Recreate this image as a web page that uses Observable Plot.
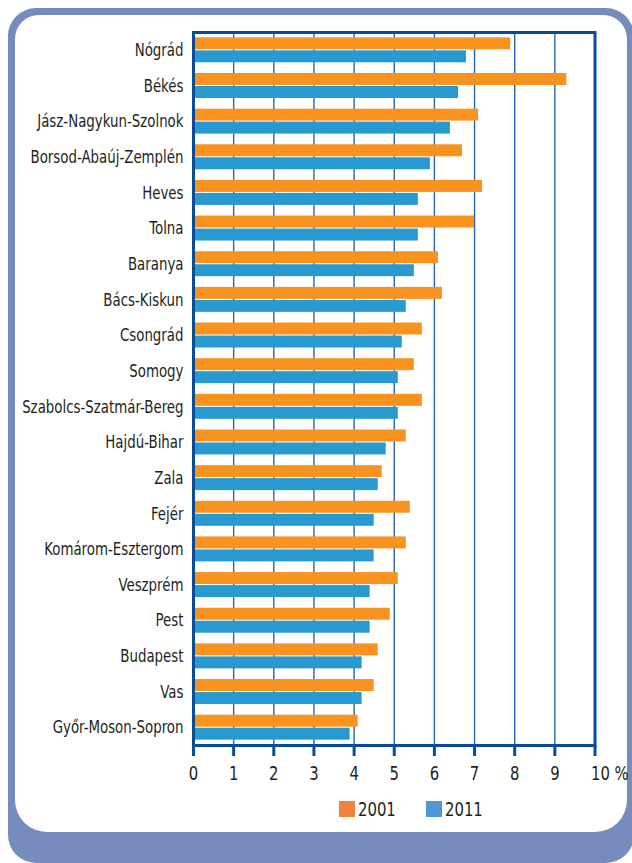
<!DOCTYPE html>
<html>
<head>
<meta charset="utf-8">
<script src="https://cdn.jsdelivr.net/npm/d3@7"></script>
<script src="https://cdn.jsdelivr.net/npm/@observablehq/plot@0.6"></script>
<style>
  html, body { margin: 0; padding: 0; background: #ffffff; }
  body { position: relative; width: 632px; height: 863px; overflow: hidden;
         font-family: "Liberation Sans Narrow", "DejaVu Sans Condensed", "Arial Narrow", sans-serif; color: #231f20; }
  #outer { position: absolute; left: 8px; top: 8px; width: 626px; height: 855px;
           background: #768cbd; border-radius: 28px; }
  #inner { position: absolute; left: 15px; top: 15px; width: 612px; height: 817px;
           background: #ffffff; border-radius: 24px 24px 32px 32px; }
  #chart { position: absolute; left: 0; top: 0; z-index: 2; }
  .item { position: absolute; top: 801px; height: 16px; z-index: 3; font-size: 20px; line-height: 16px; white-space: nowrap; }
  .sw { position: absolute; left: 0; top: 0; width: 16px; height: 16px; }
  .lt { position: absolute; left: 19px; top: 0; display: inline-block; transform-origin: 0 50%; }
</style>
</head>
<body>
<div id="outer"></div>
<div id="inner"></div>
<div id="chart"></div>
<div id="legend"></div>
<script>
const counties = [
  "Nógrád", "Békés", "Jász-Nagykun-Szolnok", "Borsod-Abaúj-Zemplén", "Heves",
  "Tolna", "Baranya", "Bács-Kiskun", "Csongrád", "Somogy",
  "Szabolcs-Szatmár-Bereg", "Hajdú-Bihar", "Zala", "Fejér", "Komárom-Esztergom",
  "Veszprém", "Pest", "Budapest", "Vas", "Győr-Moson-Sopron"
];
const values2001 = [7.9, 9.3, 7.1, 6.7, 7.2, 7.0, 6.1, 6.2, 5.7, 5.5, 5.7, 5.3, 4.7, 5.4, 5.3, 5.1, 4.9, 4.6, 4.5, 4.1];
const values2011 = [6.8, 6.6, 6.4, 5.9, 5.6, 5.6, 5.5, 5.3, 5.2, 5.1, 5.1, 4.8, 4.6, 4.5, 4.5, 4.4, 4.4, 4.2, 4.2, 3.9];
const years = ["2001", "2011"];
const barColors = ["#f7931e", "#289ad0"];
const legendColors = ["#f3823b", "#5097d3"];
const xTicks = [0, 1, 2, 3, 4, 5, 6, 7, 8, 9, 10];
const unitLabel = "%";

const data = counties.map((c, i) => ({county: c, v2001: values2001[i], v2011: values2011[i]}));

const frameColor = "#0b4c97";
const gridColor = "#2a63a8";
const textColor = "#231f20";
const font = "'Liberation Sans Narrow', 'DejaVu Sans Condensed', 'Arial Narrow', sans-serif";

const chart = Plot.plot({
  width: 632,
  height: 790,
  marginLeft: 193,
  marginRight: 37.5,
  marginTop: 32,
  marginBottom: 45,
  style: {background: "transparent", fontFamily: font, fontSize: "18px", color: textColor},
  x: {domain: [0, 10]},
  y: {domain: counties, paddingInner: 0.3, paddingOuter: 0.15, round: false},
  marks: [
    Plot.gridX(xTicks, {stroke: gridColor, strokeOpacity: 1, strokeWidth: 1.4}),
    Plot.barX(data, {y: "county", x: "v2001", fill: barColors[0], insetBottom: 13}),
    Plot.barX(data, {y: "county", x: "v2011", fill: barColors[1], insetTop: 13}),
    Plot.frame({stroke: frameColor, strokeWidth: 3}),
    Plot.axisX(xTicks, {
      tickSize: 11, tickPadding: 9, stroke: frameColor, strokeWidth: 3,
      fill: textColor, fontSize: 20, label: null,
      tickFormat: d => d === 10 ? "" : String(d)
    }),
    Plot.text([10], {
      x: d => d, text: d => String(d), frameAnchor: "bottom",
      dy: 20, lineAnchor: "top", textAnchor: "start", dx: -4,
      fontSize: 20, fill: textColor
    }),
    Plot.text([10], {
      x: d => d, text: () => unitLabel, frameAnchor: "bottom",
      dy: 20, lineAnchor: "top", textAnchor: "start", dx: 19.5,
      fontSize: 20, fill: textColor
    }),
    Plot.axisY({tickSize: 0, tickPadding: 10, label: null, fontSize: 18, fill: textColor})
  ]
});
document.getElementById("chart").appendChild(chart);

// Narrow the glyphs to mimic the condensed typeface of the original
const texts = Array.from(chart.querySelectorAll("text"));
let factor = 1;
const ref = texts.find(t => t.textContent === counties[3]);
if (ref) {
  const len = ref.getComputedTextLength();
  if (len > 0) factor = Math.min(1, 153 / len);
}
texts.forEach(t => {
  if (t.querySelector("tspan")) return;
  const len = t.getComputedTextLength();
  if (len > 0 && factor < 1) {
    t.setAttribute("textLength", (len * factor).toFixed(2));
    t.setAttribute("lengthAdjust", "spacingAndGlyphs");
  }
});

const legend = document.getElementById("legend");
years.forEach((y, i) => {
  const item = document.createElement("div");
  item.className = "item";
  item.style.left = (339 + i * 87) + "px";
  const sw = document.createElement("span");
  sw.className = "sw";
  sw.style.background = legendColors[i];
  const t = document.createElement("span");
  t.className = "lt";
  t.textContent = y;
  t.style.transform = "scaleX(" + factor + ")";
  item.appendChild(sw);
  item.appendChild(t);
  legend.appendChild(item);
});
</script>
</body>
</html>
